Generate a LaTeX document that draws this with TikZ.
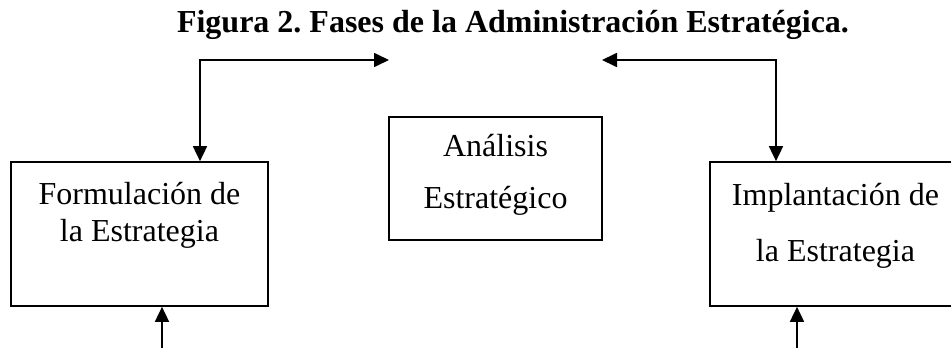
\documentclass[tikz,border=0pt]{standalone}
\usepackage{fontspec}
\setmainfont{Liberation Serif}
\frenchspacing
\usetikzlibrary{arrows.meta,positioning}

\begin{document}
\begin{tikzpicture}[x=1pt, y=-1pt, line width=1.7pt,
	>={Triangle[length=15pt,width=14pt]},
	phase/.style={draw, rectangle, inner sep=0pt},
	phasetext/.style={align=center, inner sep=0pt, anchor=north,
		font=\fontsize{32}{37}\selectfont}]
	\useasboundingbox (0,0) rectangle (951,348);

	\node[font=\bfseries\fontsize{32}{37}\selectfont, anchor=base]
	(title) at (513,32) {Figura 2. Fases de la Administración Estratégica.};

	% the three phases
	\node[phase, minimum width=257pt, minimum height=144pt] (form) at (139.5,234) {};
	\node[phasetext, below=20pt of form.north] (formtext)
	{Formulación de\\la Estrategia};

	\node[phase, minimum width=213pt, minimum height=123pt] (anal) at (495.5,178.5) {};
	\node[phasetext, below=17.5pt of anal.north] (analtext)
	{Análisis\\[15pt]Estratégico};

	\node[phase, minimum width=256pt, minimum height=144pt] (impl) at (838,234) {};
	\node[phasetext, below=21pt of impl.north, xshift=-2.5pt] (impltext)
	{Implantación de\\[19pt]la Estrategia};

	% feedback links
	\coordinate (ltip) at (389,60);
	\coordinate (lcorner) at (200,60);
	\draw[<->] (ltip) -- (lcorner) -- (lcorner |- form.north);

	\coordinate (rtip) at (602,60);
	\coordinate (rcorner) at (776,60);
	\draw[<->] (rtip) -- (rcorner) -- (rcorner |- impl.north);

	\coordinate (lin) at (162,352);
	\draw[->] (lin) -- (lin |- form.south);

	\coordinate (rin) at (797,352);
	\draw[->] (rin) -- (rin |- impl.south);
\end{tikzpicture}
\end{document}
